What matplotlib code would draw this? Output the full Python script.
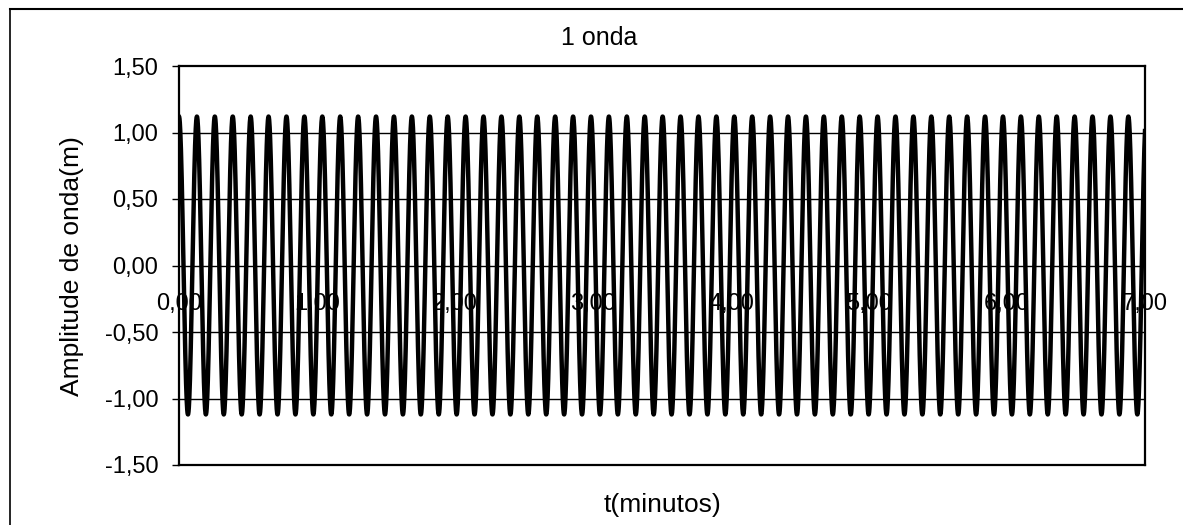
import numpy as np
import matplotlib.pyplot as plt
from matplotlib.lines import Line2D

# valores
amplitude = 1.12          # m
periodo = 0.1298          # minutos (~7,8 s)
t_fim = 7.0
x_ticks = [0, 1, 2, 3, 4, 5, 6, 7]
y_ticks = [-1.5, -1.0, -0.5, 0.0, 0.5, 1.0, 1.5]
grid_y = [-1.0, -0.5, 0.0, 0.5, 1.0]

t = np.linspace(0, t_fim, 6000)
y = amplitude * np.cos(2 * np.pi * t / periodo)

plt.rcParams['font.family'] = ['Liberation Sans', 'DejaVu Sans']

W, H = 1183, 525
fig = plt.figure(figsize=(W / 100, H / 100), dpi=100)
ax = fig.add_axes([179 / W, 1 - 465 / H, (1145 - 179) / W, (465 - 66) / H])

for g in grid_y:
    ax.axhline(g, color='black', linewidth=1.0, zorder=1)

ax.plot(t, y, color='black', linewidth=3.2, zorder=2)

ax.set_xlim(0, t_fim)
ax.set_ylim(-1.5, 1.5)
ax.set_yticks(y_ticks)
ax.set_yticklabels([f'{v:.2f}'.replace('.', ',') for v in y_ticks], fontsize=17)
ax.tick_params(axis='y', direction='out', length=5, width=1, pad=10)
ax.set_xticks([])

# rótulos do eixo x ficam junto à linha do zero
for xt in x_ticks:
    ax.text(xt, -0.29, f'{xt:.2f}'.replace('.', ','), ha='center', va='center',
            fontsize=17, zorder=3)

for s in ax.spines.values():
    s.set_linewidth(1.6)

fig.text(599 / W, 1 - 38 / H, '1 onda', ha='center', va='center', fontsize=18)
fig.text(72 / W, 1 - 266 / H, 'Amplitude de onda(m)', ha='center', va='center',
         rotation=90, fontsize=19)
fig.text(663 / W, 1 - 505 / H, 't(minutos)', ha='center', va='center', fontsize=19)

# moldura da figura
fig.add_artist(Line2D([10 / W, 10 / W], [0, 1 - 9 / H], transform=fig.transFigure,
                      color='black', linewidth=1.2))
fig.add_artist(Line2D([10 / W, 1], [1 - 9 / H, 1 - 9 / H], transform=fig.transFigure,
                      color='black', linewidth=1.5))

fig.savefig('out.png', dpi=100)
